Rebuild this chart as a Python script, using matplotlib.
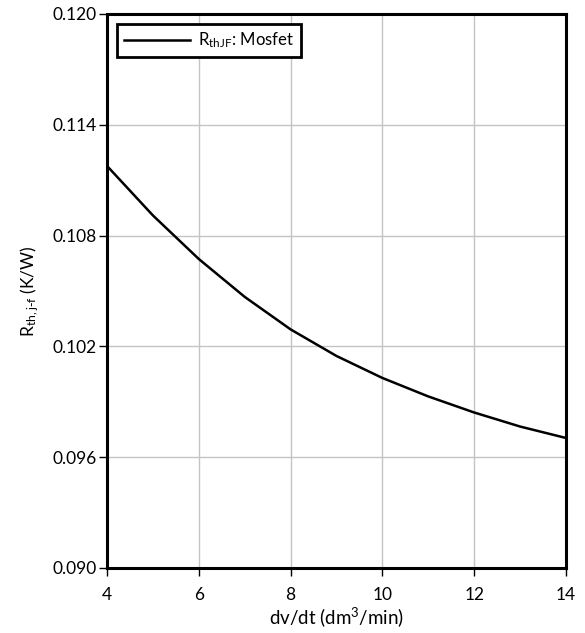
import matplotlib
matplotlib.use("Agg")
import matplotlib.pyplot as plt

flow = [4, 5, 6, 7, 8, 9, 10, 11, 12, 13, 14]
rth = [0.11177, 0.10909, 0.10673, 0.10468, 0.10292, 0.10148, 0.10029,
       0.09929, 0.09842, 0.09766, 0.09704]
xticks = [4, 6, 8, 10, 12, 14]
yticks = [0.090, 0.096, 0.102, 0.108, 0.114, 0.120]

plt.rcParams['font.family'] = ['Lato', 'DejaVu Sans']
plt.rcParams['mathtext.default'] = 'regular'
plt.rcParams['font.size'] = 12

fig = plt.figure(figsize=(5.85, 6.33), dpi=100)
ax = fig.add_axes([0.183, 0.1027, 0.7845, 0.8752])

ax.plot(flow, rth, color='black', lw=1.8, label=r'$R_{thJF}$: Mosfet')
ax.set_xlim(4, 14)
ax.set_ylim(0.090, 0.120)
ax.set_xticks(xticks)
ax.set_yticks(yticks)
ax.set_yticklabels([f"{v:.3f}" for v in yticks])
ax.grid(True, color='#c4c4c4', lw=1)
ax.tick_params(direction='out', length=6, width=1, top=False, right=False,
               labelsize=12.5)
ax.tick_params(axis='x', pad=8)
ax.tick_params(axis='y', pad=1.5)
for s in ax.spines.values():
    s.set_linewidth(2.2)
ax.set_xlabel(r'dv/dt (dm$^3$/min)', fontsize=13.5, labelpad=1)
ax.set_ylabel(r'$R_{th,j\text{-}f}$ (K/W)', fontsize=12.5, labelpad=8)

leg = ax.legend(loc='upper left', fontsize=12, handlelength=4, handletextpad=0.45,
                fancybox=False, framealpha=1, edgecolor='black', borderaxespad=0.6)
leg.get_frame().set_linewidth(2)

fig.savefig('out.png', dpi=100)
